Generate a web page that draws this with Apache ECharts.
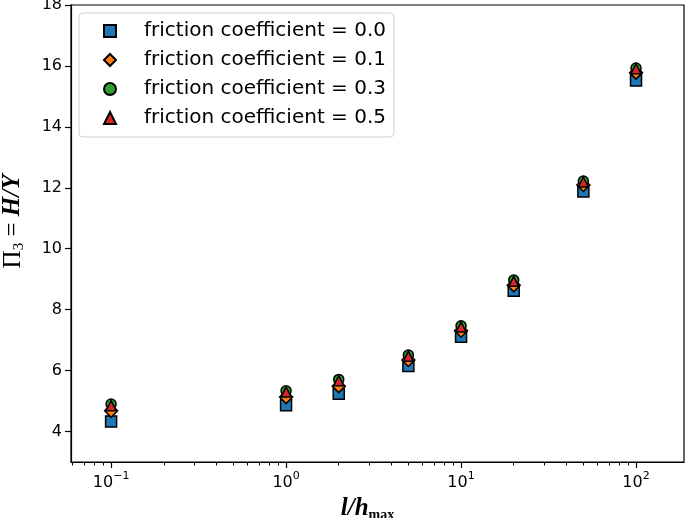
<!DOCTYPE html>
<html><head><meta charset="utf-8">
<script src="https://cdn.jsdelivr.net/npm/echarts@6/dist/echarts.min.js"></script>
<style>html,body{margin:0;padding:0;background:#fff}#c{width:685px;height:518px}</style>
</head><body><div id="c"></div>
<script>
const xValues = [0.1, 1, 2, 5, 10, 20, 50, 100];
const mu00 = [4.33, 4.86, 5.24, 6.15, 7.11, 8.62, 11.88, 15.52];
const mu01 = [4.68, 5.13, 5.49, 6.35, 7.31, 8.80, 12.09, 15.78];
const mu03 = [4.90, 5.34, 5.71, 6.51, 7.47, 8.97, 12.22, 15.93];
const mu05 = [4.85, 5.30, 5.67, 6.47, 7.43, 8.93, 12.19, 15.91];
const seriesNames = ['friction coefficient = 0.0', 'friction coefficient = 0.1', 'friction coefficient = 0.3', 'friction coefficient = 0.5'];
const xMajorTicks = [0.1, 1, 10, 100];
const xMinorTicks = [0.06, 0.07, 0.08, 0.09, 0.2, 0.3, 0.4, 0.5, 0.6, 0.7, 0.8, 0.9, 2, 3, 4, 5, 6, 7, 8, 9, 20, 30, 40, 50, 60, 70, 80, 90];
const yTicks = [4, 6, 8, 10, 12, 14, 16, 18];

const chart = echarts.init(document.getElementById('c'), null, {renderer: 'canvas'});
const pair = arr => xValues.map((x, i) => [x, arr[i]]);
const black = '#000';
const symbols = ['rect', 'diamond', 'circle', 'triangle'];
const sizes = [11, 13, 10, 10];
const colors = ['#1f77b4', '#ff7f0e', '#2ca02c', '#d62728'];
const allData = [mu00, mu01, mu03, mu05];

const option = {
  animation: false,
  grid: {left: 71, right: 1, top: 5, bottom: 56, show: true, borderColor: black, borderWidth: 1.2,
         containLabel: false, outerBoundsMode: 'none'},
  legend: {
    orient: 'vertical', left: 79, top: 13, padding: [8, 8, 9, 24], itemGap: 9,
    itemWidth: 12, itemHeight: 12,
    borderColor: '#d0d0d0', borderWidth: 1, borderRadius: 4, backgroundColor: '#fff',
    textStyle: {fontFamily: 'DejaVu Sans', fontSize: 20, color: '#000', lineHeight: 20, padding: [0, 0, 0, 23]},
    data: seriesNames
  },
  xAxis: [{
    type: 'log', logBase: 10, min: 0.059, max: 188,
    axisLine: {lineStyle: {color: black, width: 1.2}},
    splitLine: {show: false},
    axisTick: {customValues: xMajorTicks, length: 6, lineStyle: {color: black, width: 1.2}},
    axisLabel: {
      customValues: xMajorTicks, margin: 9,
      formatter: v => {
        const e = Math.round(Math.log10(v));
        return '{b|10}{s|' + (e < 0 ? '\u2212' + (-e) : e) + '}';
      },
      rich: {
        b: {fontFamily: 'DejaVu Sans', fontSize: 16, color: black, lineHeight: 24},
        s: {fontFamily: 'DejaVu Sans', fontSize: 11, color: black, lineHeight: 14, verticalAlign: 'top'}
      }
    },
    name: '{i|l/h}{s|max}', nameLocation: 'middle', nameGap: 27,
    nameTextStyle: {padding: [0, 20, 0, 0], rich: {
      i: {fontFamily: 'Liberation Serif', fontStyle: 'italic', fontWeight: 'bold', fontSize: 25, color: black, lineHeight: 28},
      s: {fontFamily: 'Liberation Serif', fontWeight: 'bold', fontSize: 14, color: black, lineHeight: 14, verticalAlign: 'bottom'}
    }}
  }, {
    type: 'log', logBase: 10, min: 0.059, max: 188, position: 'bottom',
    axisLine: {show: false}, splitLine: {show: false}, axisLabel: {show: false},
    axisTick: {customValues: xMinorTicks, length: 3.5, lineStyle: {color: black, width: 1}}
  }],
  yAxis: {
    type: 'value', min: 3, max: 18,
    axisLine: {show: true, lineStyle: {color: black, width: 1.2}},
    splitLine: {show: false},
    axisTick: {show: true, customValues: yTicks, length: 6, lineStyle: {color: black, width: 1.2}},
    axisLabel: {customValues: yTicks, fontFamily: 'DejaVu Sans', fontSize: 16, color: black, margin: 9},
    name: '{p|\u03A0}{sub|3}{e| = }{i|H/Y}', nameLocation: 'middle', nameRotate: 90, nameGap: 44,
    nameTextStyle: {padding: [0, 0, 0, 24], rich: {
      p: {fontFamily: 'Liberation Serif', fontSize: 25, color: black, lineHeight: 28},
      sub: {fontFamily: 'Liberation Serif', fontSize: 15, color: black, lineHeight: 14, verticalAlign: 'bottom'},
      e: {fontFamily: 'Liberation Serif', fontSize: 25, color: black, lineHeight: 28},
      i: {fontFamily: 'Liberation Serif', fontStyle: 'italic', fontWeight: 'bold', fontSize: 25, color: black, lineHeight: 28}
    }}
  },
  series: seriesNames.map((n, k) => ({
    name: n, type: 'scatter', xAxisIndex: 0, data: pair(allData[k]),
    symbol: symbols[k], symbolSize: sizes[k],
    itemStyle: {color: colors[k], borderColor: black, borderWidth: 1.5, opacity: 1},
    emphasis: {disabled: true}
  }))
};
chart.setOption(option);
</script></body></html>
